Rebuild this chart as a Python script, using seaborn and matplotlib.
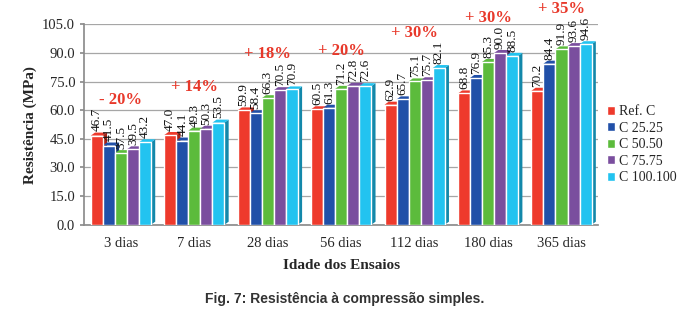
import pandas as pd
import numpy as np
import matplotlib
matplotlib.use("Agg")
import matplotlib.pyplot as plt
from matplotlib.patches import Polygon
import seaborn as sns

idades = ["3 dias", "7 dias", "28 dias", "56 dias", "112 dias", "180 dias", "365 dias"]
series = ["Ref. C", "C 25.25", "C 50.50", "C 75.75", "C 100.100"]

ref_c = [46.7, 47.0, 59.9, 60.5, 62.9, 68.8, 70.2]
c_25 = [41.5, 44.1, 58.4, 61.3, 65.7, 76.9, 84.4]
c_50 = [37.5, 49.3, 66.3, 71.2, 75.1, 85.3, 91.9]
c_75 = [39.5, 50.3, 70.5, 72.8, 75.7, 90.0, 93.6]
c_100 = [43.2, 53.5, 70.9, 72.6, 82.1, 88.5, 94.6]

variacao = ["- 20%", "+ 14%", "+ 18%", "+ 20%", "+ 30%", "+ 30%", "+ 35%"]

cores = ["#EE3A2C", "#2150A8", "#5CBB3C", "#7A4E9E", "#22C3F0"]
cores_lado = ["#A82418", "#14336E", "#3A8024", "#4F3068", "#1388AA"]

valores = [ref_c, c_25, c_50, c_75, c_100]
df = pd.DataFrame({
    "Idade": idades * len(series),
    "Serie": [s for s in series for _ in idades],
    "Resistencia": [v for lst in valores for v in lst],
})

sns.set_theme(style="white")
plt.rcParams["font.family"] = ["Liberation Serif", "DejaVu Serif"]

fig = plt.figure(figsize=(6.9, 3.13), dpi=100)
ax = fig.add_axes([0.122, 0.282, 0.745, 0.64])

sns.barplot(data=df, x="Idade", y="Resistencia", hue="Serie", order=idades,
            hue_order=series, palette=cores, saturation=1, width=0.82,
            ax=ax, legend=True)

ax.set_ylim(0, 105)
ax.set_yticks(np.arange(0, 106, 15))
ax.set_yticklabels([f"{t:.1f}" for t in np.arange(0, 106, 15)], fontsize=10.5)
ax.yaxis.grid(True, color="#A6A6A6", linewidth=0.9)
ax.set_axisbelow(True)
for lado in ["top", "right"]:
    ax.spines[lado].set_visible(False)
ax.spines["left"].set_color("#8C8C8C")
ax.spines["bottom"].set_color("#8C8C8C")
ax.tick_params(axis="x", labelsize=10.5, length=0, pad=9)
ax.tick_params(axis="y", length=3, color="#8C8C8C", left=True)

# efeito 3D simples nas barras
for i, cont in enumerate(ax.containers):
    for barra in cont:
        x0 = barra.get_x()
        w = barra.get_width()
        h = barra.get_height()
        dx = w * 0.35
        dy = 1.6
        lado = Polygon([(x0 + w, 0), (x0 + w + dx, dy), (x0 + w + dx, h + dy), (x0 + w, h)],
                       closed=True, facecolor=cores_lado[i], edgecolor="none", zorder=3)
        topo = Polygon([(x0, h), (x0 + dx, h + dy), (x0 + w + dx, h + dy), (x0 + w, h)],
                       closed=True, facecolor=cores[i], edgecolor="none", zorder=3)
        ax.add_patch(lado)
        ax.add_patch(topo)
        barra.set_zorder(4)
    rotulos = ax.bar_label(cont, labels=[f"{v:.1f}" for v in valores[i]], rotation=90,
                           padding=3, fontsize=9.5, color="#111111")
    for r in rotulos:
        r.set_zorder(6)

for j, txt in enumerate(variacao):
    topo_grupo = max(lst[j] for lst in valores)
    ax.text(j, topo_grupo + 18.5, txt, ha="center", va="center", fontsize=12,
            fontweight="bold", color="#E8382A", clip_on=False, zorder=6)

ax.set_xlabel("Idade dos Ensaios", fontsize=11, fontweight="bold", labelpad=6)
ax.set_ylabel("Resistência (MPa)", fontsize=11, fontweight="bold", labelpad=4)

ax.legend(loc="center left", bbox_to_anchor=(1.0, 0.4), frameon=False,
          fontsize=10, handlelength=0.6, handleheight=0.6, handletextpad=0.3,
          labelspacing=0.25, borderaxespad=0.2)

fig.text(0.5, 0.045, "Fig. 7: Resistência à compressão simples.", ha="center",
         va="center", fontsize=10, fontweight="bold", color="#333333",
         family="Liberation Sans")

fig.savefig("out.png", dpi=100)
